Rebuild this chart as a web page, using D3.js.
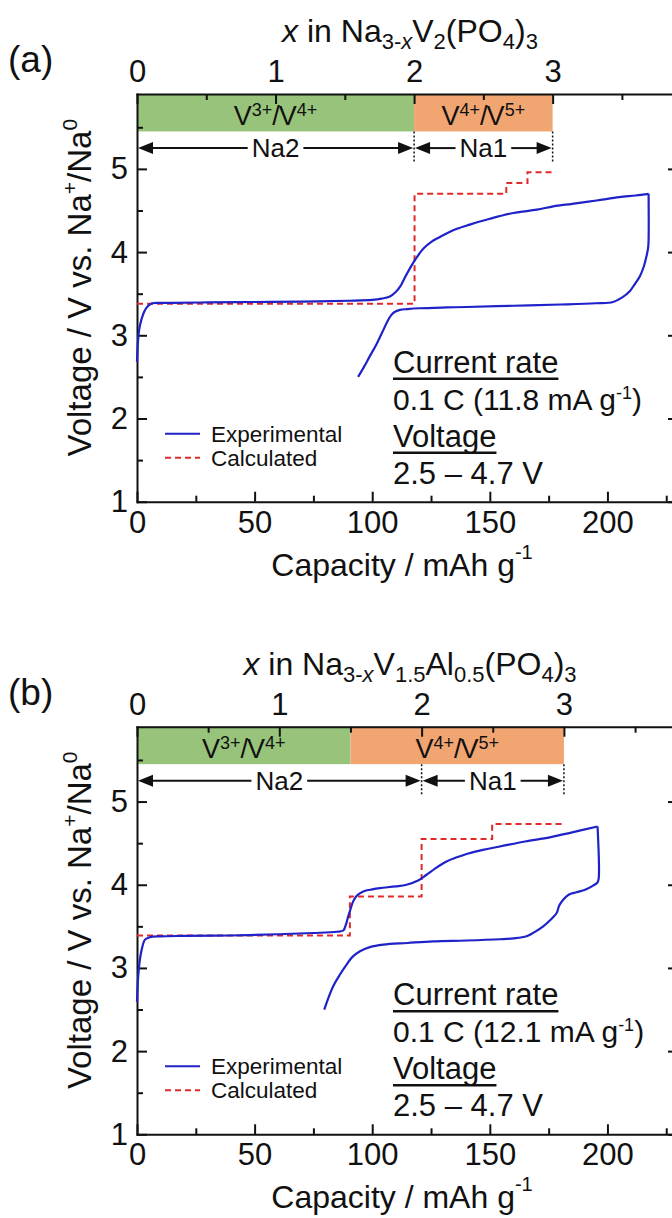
<!DOCTYPE html>
<html>
<head>
<meta charset="utf-8">
<script src="https://cdn.jsdelivr.net/npm/d3@7"></script>
<style>
  body { margin: 0; background: #fff; }
  svg { display: block; }
  text { font-family: 'Liberation Sans', Arial, Helvetica, sans-serif; fill: #111; }
</style>
</head>
<body>
<svg id="fig" width="672" height="1218"></svg>
<script>
// ---------- tick values ----------
const capTicks  = [0, 50, 100, 150, 200];
const capMinor  = [25, 75, 125, 175, 225];
const voltTicks = [1, 2, 3, 4, 5];
const voltMinor = [1.5, 2.5, 3.5, 4.5, 5.5];
const naTicks   = [0, 1, 2, 3];
const naMinor   = [0.5, 1.5, 2.5, 3.5];

// ---------- (a) Na3V2(PO4)3 ----------
const capA_charge  = [0, 0.4, 1, 2, 3, 4, 5, 6.5, 9, 15, 30, 50, 70, 90, 100, 104, 107.5, 110, 112, 114, 117.4, 120, 122, 125, 128, 132, 136, 141.5, 150, 160, 170, 177, 185, 195.4, 205, 212, 217.5];
const voltA_charge = [2.68, 2.92, 3.08, 3.2, 3.28, 3.33, 3.36, 3.385, 3.39, 3.39, 3.395, 3.40, 3.405, 3.415, 3.425, 3.44, 3.467, 3.52, 3.59, 3.70, 3.87, 3.98, 4.05, 4.12, 4.17, 4.23, 4.28, 4.33, 4.40, 4.47, 4.51, 4.55, 4.58, 4.62, 4.66, 4.68, 4.70];
const capA_discharge  = [217.5, 217.5, 217.3, 216.6, 215.5, 213.8, 211.5, 209.5, 206, 202.4, 195, 180, 160, 140, 131.6, 120, 115, 111.8, 109.5, 108, 106.5, 105, 103.3, 101.6, 99, 96.5, 94];
const voltA_discharge = [4.70, 4.15, 4.05, 3.95, 3.83, 3.71, 3.61, 3.53, 3.45, 3.40, 3.385, 3.37, 3.355, 3.34, 3.335, 3.325, 3.315, 3.305, 3.28, 3.24, 3.17, 3.08, 2.98, 2.88, 2.75, 2.62, 2.50];
const capA_calc  = [0, 118, 157, 166, 176.5];
const voltA_calc = [3.38, 4.70, 4.83, 4.96, 4.96];
const redoxEdgesA = [0, 2, 3];
const siteEdgesA  = [0, 2, 3];
const capPerNaA = 58.9;
const currentA = "11.8";

// ---------- (b) Na3V1.5Al0.5(PO4)3 ----------
const capB_charge  = [0, 0.4, 1, 2, 3.4, 5.5, 10, 20, 39.5, 60, 75, 84.9, 87.7, 88.8, 89.8, 90.8, 91.9, 93.5, 96.2, 100, 103.3, 110, 114.6, 119.5, 123.1, 127, 131.6, 136, 140.1, 147, 154.3, 165, 175.5, 185, 195.8];
const voltB_charge = [2.59, 2.85, 3.05, 3.22, 3.34, 3.37, 3.38, 3.385, 3.39, 3.405, 3.42, 3.435, 3.45, 3.52, 3.62, 3.71, 3.80, 3.87, 3.92, 3.945, 3.96, 3.98, 4.0, 4.05, 4.12, 4.20, 4.28, 4.33, 4.37, 4.42, 4.46, 4.52, 4.57, 4.63, 4.70];
const capB_discharge  = [195.8, 196.3, 195.8, 193.9, 190.5, 186.9, 183.5, 181.2, 179.5, 178.4, 175.5, 172.7, 169, 165.6, 160, 154.3, 140, 125.9, 115, 104.7, 99, 94.8, 91.5, 89.1, 86.5, 83.4, 79.6];
const voltB_discharge = [4.70, 4.08, 4.03, 3.99, 3.94, 3.91, 3.88, 3.82, 3.75, 3.66, 3.57, 3.50, 3.43, 3.38, 3.355, 3.345, 3.33, 3.32, 3.30, 3.28, 3.25, 3.20, 3.13, 3.04, 2.93, 2.78, 2.50];
const capB_calc  = [0, 90.5, 121, 151, 181.6];
const voltB_calc = [3.39, 3.86, 4.55, 4.73, 4.73];
const redoxEdgesB = [0, 1.5, 3];
const siteEdgesB  = [0, 2, 3];
const capPerNaB = 60.5;
const currentB = "12.1";

// ---------- shared labels ----------
const redoxNames  = [["3+", "4+"], ["4+", "5+"]];
const siteNames   = ["Na2", "Na1"];
const legendNames = ["Experimental", "Calculated"];
const voltWindow  = "2.5 \u2013 4.7 V";

// ---------- styling ----------
const BLUE = "#1f22c8", RED = "#e02a2a";
const bandColors = ["#97c47a", "#f1a571"];
const L = 137, R = 678;
const CAP_MAX = 230, V_MIN = 1, V_MAX = 5.9;
const BAND_LOW = 5.45, ARROW_V = 5.25, DIVIDER_LOW = 5.08;
const TICK_FONT = 31;

const svg = d3.select("#fig");

function styleAxis(sel) {
  sel.select(".domain").attr("stroke", "#111").attr("stroke-width", 2).attr("stroke-linecap", "square");
  sel.selectAll(".tick line").attr("stroke", "#111").attr("stroke-width", 2);
  sel.selectAll(".tick text").style("font-size", TICK_FONT + "px").attr("fill", "#111")
     .style("font-family", "'Liberation Sans', Arial, Helvetica, sans-serif");
}

function drawPanel(cfg) {
  const g = svg.append("g");
  const x  = d3.scaleLinear().domain([0, CAP_MAX]).range([L, R]);
  const y  = d3.scaleLinear().domain([V_MIN, V_MAX]).range([cfg.bottom, cfg.top]);
  const xn = d3.scaleLinear().domain([0, CAP_MAX / cfg.capPerNa]).range([L, R]);
  const fmt = d3.format("d");

  // redox bands along the top
  const bands = d3.pairs(cfg.redoxEdges).map(([a, b], i) => ({a, b, i}));
  g.selectAll("rect.band").data(bands).join("rect").attr("class", "band")
    .attr("x", d => xn(d.a)).attr("width", d => xn(d.b) - xn(d.a))
    .attr("y", y(V_MAX)).attr("height", y(BAND_LOW) - y(V_MAX))
    .attr("fill", d => bandColors[d.i]);
  bands.forEach(d => {
    const t = g.append("text")
      .attr("x", (xn(d.a) + xn(d.b)) / 2).attr("y", y(V_MAX) + 31)
      .attr("text-anchor", "middle").style("font-size", "27px");
    t.append("tspan").text("V");
    t.append("tspan").attr("dy", -9).style("font-size", "18px").text(redoxNames[d.i][0]);
    t.append("tspan").attr("dy", 9).text("/");
    t.append("tspan").attr("dx", -1).text("V");
    t.append("tspan").attr("dy", -9).style("font-size", "18px").text(redoxNames[d.i][1]);
  });

  // Na site arrows
  const ya = y(ARROW_V);
  d3.pairs(cfg.siteEdges).forEach(([a, b], i) => {
    const x0 = xn(a) + 1, x1 = xn(b) - 1, cx = (x0 + x1) / 2;
    const lbl = g.append("text").attr("x", cx).attr("y", ya + 9)
      .attr("text-anchor", "middle").style("font-size", "26px").text(siteNames[i]);
    const w = lbl.node().getComputedTextLength();
    g.append("line").attr("x1", x0 + 10).attr("x2", cx - w / 2 - 4).attr("y1", ya).attr("y2", ya)
      .attr("stroke", "#111").attr("stroke-width", 2);
    g.append("line").attr("x1", cx + w / 2 + 4).attr("x2", x1 - 10).attr("y1", ya).attr("y2", ya)
      .attr("stroke", "#111").attr("stroke-width", 2);
    g.append("path").attr("d", `M${x0},${ya}L${x0 + 15},${ya - 6}L${x0 + 15},${ya + 6}Z`).attr("fill", "#111");
    g.append("path").attr("d", `M${x1},${ya}L${x1 - 15},${ya - 6}L${x1 - 15},${ya + 6}Z`).attr("fill", "#111");
  });
  cfg.siteEdges.filter(v => v > 0).forEach(v => {
    g.append("line").attr("x1", xn(v)).attr("x2", xn(v))
      .attr("y1", y(BAND_LOW)).attr("y2", y(DIVIDER_LOW))
      .attr("stroke", "#111").attr("stroke-width", 1.5).attr("stroke-dasharray", "2,2");
  });

  // axes (ticks pointing inward)
  const gb = g.append("g").attr("transform", `translate(0,${cfg.bottom})`)
    .call(d3.axisBottom(x).tickValues(capTicks).tickFormat(fmt).tickSizeInner(-10).tickSizeOuter(0).tickPadding(9));
  styleAxis(gb);
  const gbm = g.append("g").attr("transform", `translate(0,${cfg.bottom})`)
    .call(d3.axisBottom(x).tickValues(capMinor).tickSize(-6).tickFormat(""));
  gbm.select(".domain").remove(); styleAxis(gbm);

  const gl = g.append("g").attr("transform", `translate(${L},0)`)
    .call(d3.axisLeft(y).tickValues(voltTicks).tickFormat(fmt).tickSizeInner(-10).tickSizeOuter(0).tickPadding(9));
  styleAxis(gl);
  const glm = g.append("g").attr("transform", `translate(${L},0)`)
    .call(d3.axisLeft(y).tickValues(voltMinor).tickSize(-6).tickFormat(""));
  glm.select(".domain").remove(); styleAxis(glm);

  const gr = g.append("g").attr("transform", `translate(${R},0)`)
    .call(d3.axisRight(y).tickValues(voltTicks).tickSizeInner(-10).tickSizeOuter(0).tickFormat(""));
  styleAxis(gr);
  const grm = g.append("g").attr("transform", `translate(${R},0)`)
    .call(d3.axisRight(y).tickValues(voltMinor).tickSize(-6).tickFormat(""));
  grm.select(".domain").remove(); styleAxis(grm);

  const gt = g.append("g").attr("transform", `translate(0,${cfg.top})`)
    .call(d3.axisTop(xn).tickValues(naTicks).tickFormat(fmt).tickSizeInner(-10).tickSizeOuter(0).tickPadding(12));
  styleAxis(gt);
  const gtm = g.append("g").attr("transform", `translate(0,${cfg.top})`)
    .call(d3.axisTop(xn).tickValues(naMinor).tickSize(-6).tickFormat(""));
  gtm.select(".domain").remove(); styleAxis(gtm);

  // calculated profile (dashed steps)
  const calc = d3.zip(cfg.capCalc, cfg.voltCalc);
  g.append("path").datum(calc)
    .attr("d", d3.line().x(d => x(d[0])).y(d => y(d[1])).curve(d3.curveStepAfter))
    .attr("fill", "none").attr("stroke", RED).attr("stroke-width", 2).attr("stroke-dasharray", "6,4");

  // experimental charge / discharge
  const expLine = d3.line().x(d => x(d[0])).y(d => y(d[1])).curve(d3.curveCatmullRom.alpha(0.5));
  [d3.zip(cfg.capCharge, cfg.voltCharge), d3.zip(cfg.capDischarge, cfg.voltDischarge)].forEach(seg => {
    g.append("path").datum(seg).attr("d", expLine)
      .attr("fill", "none").attr("stroke", BLUE).attr("stroke-width", 2.2).attr("stroke-linejoin", "round");
  });

  // legend
  legendNames.forEach((name, i) => {
    const ly = cfg.bottom - 68 + i * 24;
    g.append("line").attr("x1", 165).attr("x2", 200).attr("y1", ly).attr("y2", ly)
      .attr("stroke", i === 0 ? BLUE : RED).attr("stroke-width", 2)
      .attr("stroke-dasharray", i === 0 ? null : "6,4");
    g.append("text").attr("x", 211).attr("y", ly + 8).style("font-size", "22.5px").text(name);
  });

  // measurement conditions
  const ax = 393;
  const underlined = (txt, yy) => {
    const t = g.append("text").attr("x", ax).attr("y", yy).style("font-size", "31px").text(txt);
    const w = t.node().getComputedTextLength();
    g.append("line").attr("x1", ax).attr("x2", ax + w).attr("y1", yy + 6).attr("y2", yy + 6)
      .attr("stroke", "#111").attr("stroke-width", 2.5);
  };
  underlined("Current rate", cfg.bottom - 129);
  const rt = g.append("text").attr("x", ax).attr("y", cfg.bottom - 92).style("font-size", "30px");
  rt.append("tspan").text(`0.1 C (${cfg.current} mA g`);
  rt.append("tspan").attr("dy", -11).style("font-size", "18px").text("-1");
  rt.append("tspan").attr("dy", 11).text(")");
  underlined("Voltage", cfg.bottom - 55);
  g.append("text").attr("x", ax).attr("y", cfg.bottom - 18).style("font-size", "31px").text(voltWindow);

  // axis titles
  const xt = g.append("text").attr("x", 402).attr("y", cfg.bottom + 74)
    .attr("text-anchor", "middle").style("font-size", "32px");
  xt.append("tspan").text("Capacity / mAh g");
  xt.append("tspan").attr("dy", -17).style("font-size", "20px").text("-1");

  const yt = g.append("text")
    .attr("transform", `translate(91,${cfg.bottom - 214}) rotate(-90)`)
    .attr("text-anchor", "middle").style("font-size", "33px");
  yt.append("tspan").text("Voltage / V vs. Na");
  yt.append("tspan").attr("dy", -14).style("font-size", "21px").text("+");
  yt.append("tspan").attr("dy", 14).text("/Na");
  yt.append("tspan").attr("dy", -14).style("font-size", "21px").text("0");

  // composition title
  const tt = g.append("text").attr("x", 410).attr("y", cfg.top - 52)
    .attr("text-anchor", "middle").style("font-size", "32px");
  cfg.formula.forEach(part => {
    const s = tt.append("tspan").text(part.t);
    if (part.sub) s.style("font-size", "22px").attr("dy", part.dy);
    else if (part.dy) s.attr("dy", part.dy);
    if (part.it) s.style("font-style", "italic");
  });

  g.append("text").attr("x", 8).attr("y", cfg.top - 22).style("font-size", "37px").text(cfg.tag);
}

drawPanel({
  tag: "(a)", top: 94, bottom: 501.7,
  capCharge: capA_charge, voltCharge: voltA_charge,
  capDischarge: capA_discharge, voltDischarge: voltA_discharge,
  capCalc: capA_calc, voltCalc: voltA_calc,
  redoxEdges: redoxEdgesA, siteEdges: siteEdgesA, capPerNa: capPerNaA, current: currentA,
  formula: [
    {t: "x", it: true}, {t: " in Na"},
    {t: "3-", sub: true, dy: 7}, {t: "x", sub: true, it: true, dy: 0},
    {t: "V", dy: -7}, {t: "2", sub: true, dy: 7},
    {t: "(PO", dy: -7}, {t: "4", sub: true, dy: 7},
    {t: ")", dy: -7}, {t: "3", sub: true, dy: 7}
  ]
});

drawPanel({
  tag: "(b)", top: 726.7, bottom: 1134.3,
  capCharge: capB_charge, voltCharge: voltB_charge,
  capDischarge: capB_discharge, voltDischarge: voltB_discharge,
  capCalc: capB_calc, voltCalc: voltB_calc,
  redoxEdges: redoxEdgesB, siteEdges: siteEdgesB, capPerNa: capPerNaB, current: currentB,
  formula: [
    {t: "x", it: true}, {t: " in Na"},
    {t: "3-", sub: true, dy: 7}, {t: "x", sub: true, it: true, dy: 0},
    {t: "V", dy: -7}, {t: "1.5", sub: true, dy: 7},
    {t: "Al", dy: -7}, {t: "0.5", sub: true, dy: 7},
    {t: "(PO", dy: -7}, {t: "4", sub: true, dy: 7},
    {t: ")", dy: -7}, {t: "3", sub: true, dy: 7}
  ]
});
</script>
</body>
</html>
